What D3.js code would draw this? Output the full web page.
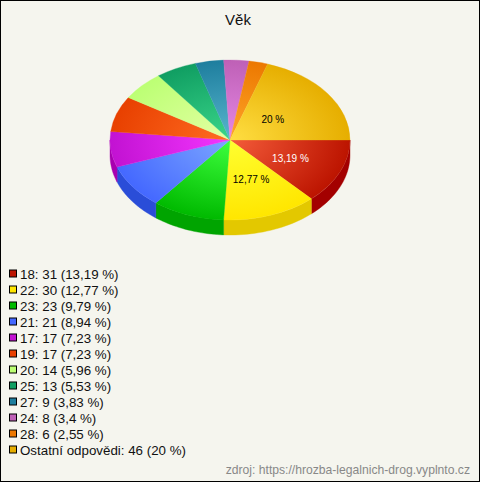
<!DOCTYPE html>
<html><head><meta charset="utf-8">
<script src="https://cdnjs.cloudflare.com/ajax/libs/d3/7.8.5/d3.min.js"></script>
<style>html,body{margin:0;padding:0;background:#f5f5ee}svg{display:block}text{font-family:"Liberation Sans",Arial,sans-serif}</style>
</head><body><svg id="c" width="480" height="482"></svg>
<script>
const categories=["18","22","23","21","17","19","20","25","27","24","28","Ostatní odpovědi"];
const counts=[31,30,23,21,17,17,14,13,9,8,6,46];
const percents=[13.19,12.77,9.79,8.94,7.23,7.23,5.96,5.53,3.83,3.4,2.55,20];
const centerColors=["#f45c3a","#ffff30","#3eff3e","#7ca6ff","#f436ff","#ff6c22","#e4ffa4","#3ad68a","#58b6ce","#e688e6","#ffa62a","#ffde42"];
const edgeColors=["#bc1400","#ffe600","#00ba00","#4468ff","#c212d2","#e84000","#bcff74","#109e62","#1e7e9e","#be60b6","#ec7800","#e6ae00"];
const wallColors=["#a30000","#e3c800","#00a400","#2a4dd8","#a800b0","#c83000","#a0e060","#0c8450","#186a86","#a04e9c","#c86000","#c89400"];
const labelled=[0,1,11];
const labelColors={0:"#fff",1:"#000",11:"#000"};
const labelFrac={0:.55,1:.52,11:.44};

const fmt=v=>String(v).replace(".",",");
const W=480,H=482,cx=230,cy=140,rx=120,ry=80,depth=15;
const svg=d3.select("#c");
svg.append("rect").attr("x",.5).attr("y",.5).attr("width",W-1).attr("height",H-1).attr("fill","#f5f5ee").attr("stroke","#000");
svg.append("text").attr("x",238).attr("y",25).attr("text-anchor","middle").attr("font-size",15).attr("fill","#111").text("Věk");

const pie=d3.pie().sort(null).startAngle(Math.PI/2).endAngle(Math.PI*2.5);
const arcs=pie(percents);
const arc=d3.arc().innerRadius(0).outerRadius(rx);
const defs=svg.append("defs");
percents.forEach((_,i)=>{
  const g=defs.append("radialGradient").attr("id","g"+i).attr("gradientUnits","userSpaceOnUse")
    .attr("cx",0).attr("cy",0).attr("r",rx);
  g.append("stop").attr("offset","0%").attr("stop-color",centerColors[i]);
  g.append("stop").attr("offset","100%").attr("stop-color",edgeColors[i]);
});
// front walls
const ptX=a=>cx+rx*Math.sin(a), ptY=a=>cy-ry*Math.cos(a);
const line=d3.line();
const front=[Math.PI/2,Math.PI*1.5];
arcs.forEach((d,i)=>{
  const a0=Math.max(d.startAngle,front[0]),a1=Math.min(d.endAngle,front[1]);
  if(a1<=a0)return;
  const as=d3.range(0,25).map(k=>a0+(a1-a0)*k/24);
  const pts=as.map(a=>[ptX(a),ptY(a)]).concat(as.slice().reverse().map(a=>[ptX(a),ptY(a)+depth]));
  svg.append("path").attr("d",line(pts)+"Z").attr("fill",wallColors[i]).attr("stroke",wallColors[i]).attr("stroke-width",.4);
});
const topFace=svg.append("g").attr("transform",`translate(${cx},${cy}) scale(1,${ry/rx})`);
topFace.selectAll("path").data(arcs).join("path").attr("d",arc).attr("fill",(d,i)=>`url(#g${i})`)
  .attr("stroke",(d,i)=>`url(#g${i})`).attr("stroke-width",.4);
labelled.forEach(i=>{
  const d=arcs[i],m=(d.startAngle+d.endAngle)/2,f=labelFrac[i];
  svg.append("text").attr("x",cx+rx*f*Math.sin(m)).attr("y",cy-ry*f*Math.cos(m)+4)
    .attr("text-anchor","middle").attr("font-size",10).attr("fill",labelColors[i]).text(fmt(percents[i])+" %");
});
const yL=d3.scalePoint().domain(d3.range(categories.length)).range([273.5,449.5]);
const leg=svg.append("g").selectAll("g").data(categories).join("g").attr("transform",(d,i)=>`translate(0,${yL(i)})`);
leg.append("rect").attr("x",9.5).attr("y",-3.5).attr("width",7).attr("height",7).attr("stroke","#000")
  .attr("fill",(d,i)=>edgeColors[i]);
leg.append("text").attr("x",20).attr("y",5).attr("font-size",13.33).attr("fill","#111")
  .text((d,i)=>`${d}: ${counts[i]} (${fmt(percents[i])} %)`);
svg.append("text").attr("x",470).attr("y",474).attr("text-anchor","end").attr("font-size",12.15).attr("fill","#888")
  .text("zdroj: https://hrozba-legalnich-drog.vyplnto.cz");
</script></body></html>
